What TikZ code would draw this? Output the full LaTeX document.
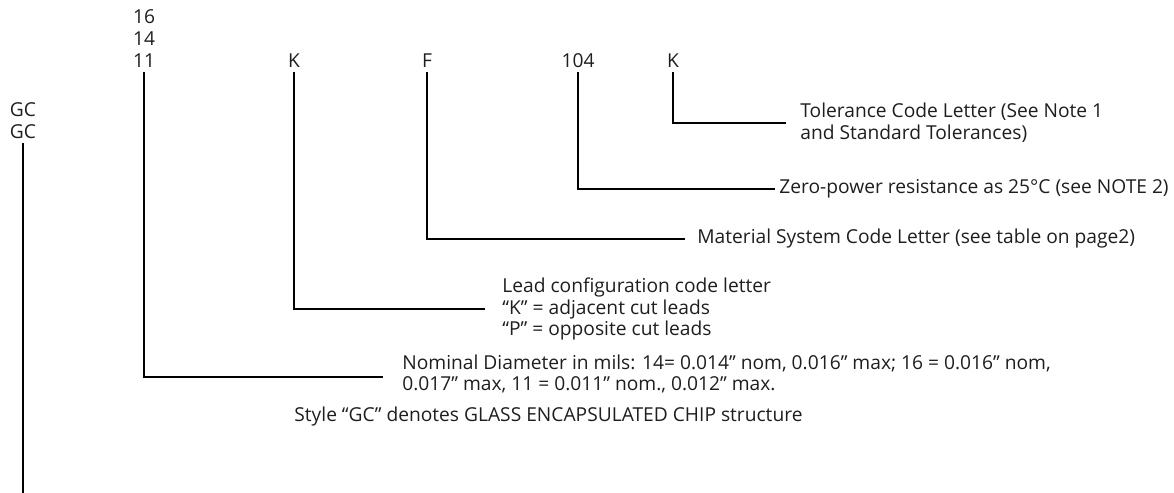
\documentclass[tikz,border=0pt]{standalone}
\usepackage{fontspec}
\setmainfont{Open Sans}
\usepackage{xcolor}
\usepackage{tikz}
\usetikzlibrary{positioning, calc}
\definecolor{PNLine}{RGB}{0, 0, 0}
\definecolor{PNText}{RGB}{30, 30, 30}
\tikzset{
    codetext/.style={inner sep=2pt, align=center, anchor=south, text=PNText,
      font=\fontsize{9.6}{11}\selectfont},
    desctext/.style={inner sep=0pt, align=left, anchor=west, text=PNText,
      font=\fontsize{9.6}{10.8}\selectfont},
    leadline/.style={draw=PNLine, line width=1pt},
}
\begin{document}
\begin{tikzpicture}[x=0.5pt, y=-0.5pt]
    \path[use as bounding box] (0,0) rectangle (1174,493);
    \node[codetext] (codeGC) at (23,143) {GC\\GC};
    \node[codetext] (codeDia) at (144,72) {16\\14\\11};
    \node[codetext] (codeLead) at (294,72) {K};
    \node[codetext] (codeMat) at (427,72) {F};
    \node[codetext] (codeRes) at (578,72) {104};
    \node[codetext] (codeTol) at (673,72) {K};
    \coordinate (gcEnd) at (23,493);
    \node[desctext] (descTol) at (800,123) {Tolerance Code Letter (See Note 1\\and Standard Tolerances)};
    \node[desctext] (descRes) at (779,189) {Zero-power resistance as 25°C (see NOTE 2)};
    \node[desctext] (descMat) at (697,239) {Material System Code Letter (see table on page2)};
    \node[desctext] (descLead) at (502,309) {Lead configuration code letter\\“K” = adjacent cut leads\\“P” = opposite cut leads};
    \node[desctext] (descDia) at (402,374) {Nominal Diameter in mils: 14= 0.014” nom, 0.016” max; 16 = 0.016” nom,\\0.017” max, 11 = 0.011” nom., 0.012” max.};
    \node[desctext] (descGC) at (294,417) {Style “GC” denotes GLASS ENCAPSULATED CHIP structure};
    \draw[leadline] (codeGC.south) -- (gcEnd);
    \draw[leadline, shorten >=9.5pt] (codeDia.south) |- ([yshift=-1.5pt]descDia.west);
    \draw[leadline, shorten >=8.5pt] (codeLead.south) |- (descLead.west);
    \draw[leadline, shorten >=6pt] (codeMat.south) |- (descMat.west);
    \draw[leadline, shorten >=2pt] (codeRes.south) |- (descRes.west);
    \draw[leadline, shorten >=7pt] (codeTol.south) |- (descTol.west);
\end{tikzpicture}
\end{document}
